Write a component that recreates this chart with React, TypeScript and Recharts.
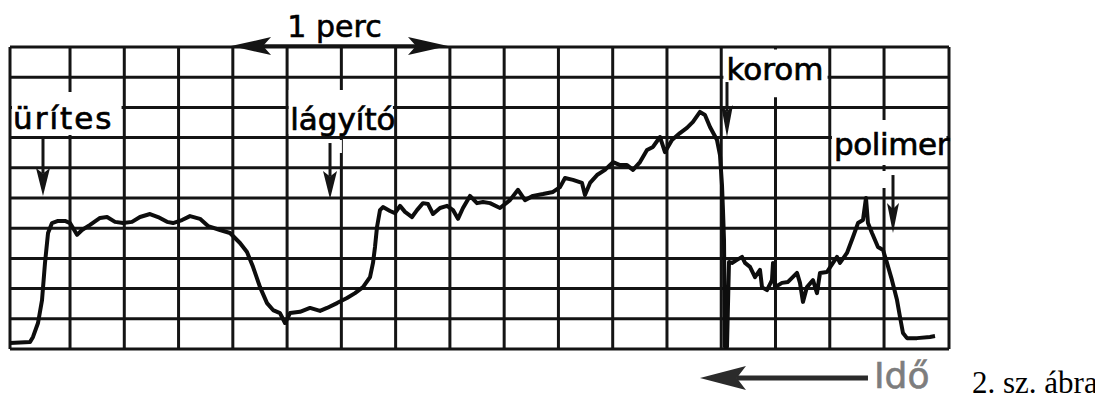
import {
  CartesianGrid,
  Line,
  LineChart,
  ReferenceArea,
  ReferenceLine,
  XAxis,
  YAxis,
} from "recharts";

// recorder trace: x in grid divisions (4 divisions = 1 perc), y in grid divisions
const osztas = [
  -0.106, 0.263, 0.318, 0.41, 0.484, 0.539, 0.595, 0.668, 0.779, 0.908,
  1.0, 1.129, 1.221, 1.369, 1.553, 1.682, 1.829, 1.977, 2.142, 2.29,
  2.474, 2.622, 2.787, 2.898, 3.064, 3.211, 3.395, 3.543, 3.764, 3.948,
  4.132, 4.261, 4.372, 4.501, 4.63, 4.741, 4.869, 4.962, 5.054, 5.238,
  5.422, 5.607, 5.736, 5.92, 6.104, 6.252, 6.399, 6.528, 6.583, 6.62,
  6.657, 6.712, 6.767, 6.896, 6.988, 7.081, 7.173, 7.302, 7.394, 7.504,
  7.597, 7.689, 7.818, 7.947, 8.057, 8.149, 8.241, 8.37, 8.499, 8.61,
  8.739, 8.923, 9.107, 9.255, 9.384, 9.531, 9.715, 9.9, 10.029, 10.121,
  10.268, 10.434, 10.489, 10.582, 10.711, 10.858, 11.006, 11.135, 11.263, 11.374,
  11.503, 11.632, 11.742, 11.871, 11.963, 12.092, 12.239, 12.368, 12.479, 12.608,
  12.7, 12.793, 12.922, 12.977, 13.014, 13.032, 13.051, 13.069, 13.106, 13.143,
  13.198, 13.29, 13.383, 13.438, 13.53, 13.622, 13.714, 13.751, 13.843, 13.935,
  13.954, 13.991, 14.12, 14.23, 14.396, 14.451, 14.506, 14.58, 14.691, 14.764,
  14.82, 14.949, 15.059, 15.133, 15.188, 15.317, 15.428, 15.52, 15.612, 15.667,
  15.704, 15.778, 15.888, 15.981, 16.054, 16.146, 16.239, 16.294, 16.349, 16.423,
  16.607, 16.846, 16.939,
];

const jel = [
  0.2, 0.23, 0.4, 0.86, 1.62, 2.85, 3.84, 4.17, 4.24, 4.24,
  4.17, 3.78, 3.94, 4.11, 4.34, 4.37, 4.21, 4.17, 4.21, 4.37,
  4.47, 4.37, 4.21, 4.17, 4.27, 4.4, 4.31, 4.07, 3.94, 3.84,
  3.51, 3.21, 2.72, 2.05, 1.52, 1.29, 1.19, 0.86, 1.19, 1.23,
  1.36, 1.26, 1.36, 1.52, 1.69, 1.85, 2.05, 2.38, 2.85, 3.38,
  4.04, 4.6, 4.7, 4.57, 4.5, 4.74, 4.54, 4.37, 4.6, 4.83,
  4.8, 4.47, 4.67, 4.74, 4.6, 4.31, 4.67, 5.07, 4.83, 4.87,
  4.83, 4.67, 4.93, 5.27, 4.93, 5.07, 5.13, 5.2, 5.36, 5.66,
  5.6, 5.5, 5.1, 5.5, 5.76, 5.93, 6.19, 6.09, 6.09, 5.93,
  6.19, 6.59, 6.69, 7.02, 6.52, 6.92, 7.15, 7.32, 7.52, 7.85,
  7.75, 7.35, 6.92, 6.42, 5.43, 4.6, 3.61, 0.07, 0.07, 2.88,
  2.85, 2.95, 3.05, 2.85, 2.72, 2.38, 2.62, 2.05, 1.95, 2.28,
  2.85, 2.05, 2.19, 2.22, 2.52, 2.19, 1.56, 2.05, 2.28, 1.85,
  2.52, 2.55, 2.85, 3.05, 2.85, 3.18, 3.71, 4.17, 4.27, 5.0,
  4.17, 3.84, 3.38, 3.28, 2.85, 2.28, 1.62, 1.06, 0.53, 0.36,
  0.36, 0.4, 0.43,
];

const xTicks = [-0.106, 1, 2, 3, 4, 5, 6, 7, 8, 9, 10, 11, 12, 13, 14, 15, 16, 17.197];
const yTicks = [0, 1, 2, 3, 4, 5, 6, 7, 8, 9, 10];

const data = osztas.map((u, i) => ({ u, v: jel[i] }));

const INK = "#141414";
const SANS = "DejaVu Sans";

function head(tx: number, ty: number, dx: number, dy: number, len: number, half: number) {
  const bx = tx - dx * len;
  const by = ty - dy * len;
  const mx = tx - dx * len * 0.8;
  const my = ty - dy * len * 0.8;
  return `${tx},${ty} ${bx - dy * half},${by + dx * half} ${mx},${my} ${bx + dy * half},${by - dx * half}`;
}

function Arrow(props: any) {
  const {
    x1, y1, x2, y2,
    both = false, len = 28, half = 7, width = 3, color = INK,
    caption, capDx = 0, capDy = 0, capSize = 30, capColor = "#000", capAnchor = "middle",
  } = props;
  const d = Math.hypot(x2 - x1, y2 - y1) || 1;
  const dx = (x2 - x1) / d;
  const dy = (y2 - y1) / d;
  const sx = both ? x1 + dx * len * 0.8 : x1;
  const sy = both ? y1 + dy * len * 0.8 : y1;
  const ex = x2 - dx * len * 0.8;
  const ey = y2 - dy * len * 0.8;
  return (
    <g>
      <line x1={sx} y1={sy} x2={ex} y2={ey} stroke={color} strokeWidth={width} />
      <polygon points={head(x2, y2, dx, dy, len, half)} fill={color} />
      {both && <polygon points={head(x1, y1, -dx, -dy, len, half)} fill={color} />}
      {caption && (
        <text
          x={(x1 + x2) / 2 + capDx}
          y={(y1 + y2) / 2 + capDy}
          textAnchor={capAnchor}
          fontFamily={SANS}
          fontSize={capSize}
          fill={capColor}
          stroke={capColor}
          strokeWidth={0.6}
        >
          {caption}
        </text>
      )}
    </g>
  );
}

const boxText = (text: string, dx: number, dy: number, spacing = 0) => (p: any) => {
  const vb = p.viewBox;
  return (
    <text
      x={vb.x + dx}
      y={vb.y + dy}
      fontFamily={SANS}
      fontSize={31}
      fill="#000"
      stroke="#000"
      strokeWidth={0.7}
      letterSpacing={spacing}
    >
      {text}
    </text>
  );
};

const white = { fill: "#fff", fillOpacity: 1, stroke: "none", ifOverflow: "visible" as const };

export default function App() {
  return (
    <div style={{ position: "relative", width: 1087, height: 390 }}>
      <LineChart
        width={1087}
        height={390}
        data={data}
        margin={{ top: 39, right: 146, left: 2, bottom: 49 }}
      >
        <XAxis dataKey="u" type="number" domain={[-0.106, 17.197]} ticks={xTicks} hide />
        <YAxis type="number" domain={[0, 10]} ticks={yTicks} hide />
        <CartesianGrid stroke={INK} strokeWidth={3} />

        <ReferenceArea {...white} x1={-0.069} x2={1.95} y1={7.09} y2={8.51} label={boxText("ürítes", 1, 37.5, 2)} />
        <ReferenceArea {...white} x1={5.03} x2={6.95} y1={7.12} y2={8.58} label={boxText("lágyító", 1.5, 40)} />
        <ReferenceArea {...white} x1={5.94} x2={6.01} y1={6.49} y2={6.92} />
        <ReferenceArea {...white} x1={13.04} x2={14.96} y1={8.34} y2={9.92} label={boxText("korom", 3, 30.5)} />
        <ReferenceArea {...white} x1={15.04} x2={17.15} y1={6.09} y2={7.58} label={boxText("polimer", 2, 35, -0.4)} />
        <ReferenceArea {...white} x1={15.96} x2={16.04} y1={5.33} y2={5.89} />

        <ReferenceLine ifOverflow="visible" segment={[{ x: 0.502, y: 7.02 }, { x: 0.502, y: 5.07 }]} shape={(p: any) => <Arrow {...p} />} />
        <ReferenceLine ifOverflow="visible" segment={[{ x: 5.791, y: 6.82 }, { x: 5.791, y: 4.97 }]} shape={(p: any) => <Arrow {...p} />} />
        <ReferenceLine ifOverflow="visible" segment={[{ x: 13.106, y: 8.84 }, { x: 13.106, y: 7.02 }]} shape={(p: any) => <Arrow {...p} len={32} half={6} />} />
        <ReferenceLine ifOverflow="visible" segment={[{ x: 16.165, y: 5.76 }, { x: 16.165, y: 3.84 }]} shape={(p: any) => <Arrow {...p} len={30} half={6} />} />
        <ReferenceLine
          ifOverflow="visible"
          segment={[{ x: 3.967, y: 10.03 }, { x: 7.965, y: 10.03 }]}
          shape={(p: any) => <Arrow {...p} both len={40} half={9} width={3.5} caption="1 perc" capDx={-5} capDy={-9} />}
        />
        <ReferenceLine
          ifOverflow="visible"
          segment={[{ x: 15.704, y: -0.96 }, { x: 12.608, y: -0.96 }]}
          shape={(p: any) => (
            <Arrow
              {...p}
              len={46}
              half={12}
              width={5}
              color="#2b2b2b"
              caption="Idő"
              capDx={90}
              capDy={10}
              capSize={36}
              capColor="#7d7d7d"
              capAnchor="start"
            />
          )}
        />

        <Line
          dataKey="v"
          type="linear"
          stroke="#0d0d0d"
          strokeWidth={4}
          strokeLinejoin="round"
          dot={false}
          isAnimationActive={false}
        />
      </LineChart>
      <div
        style={{
          position: "absolute",
          left: 964,
          top: 359,
          fontFamily: "Liberation Serif",
          fontSize: 31,
          lineHeight: "31px",
          whiteSpace: "nowrap",
          color: "#000",
        }}
      >
        2. sz. ábra
      </div>
    </div>
  );
}
